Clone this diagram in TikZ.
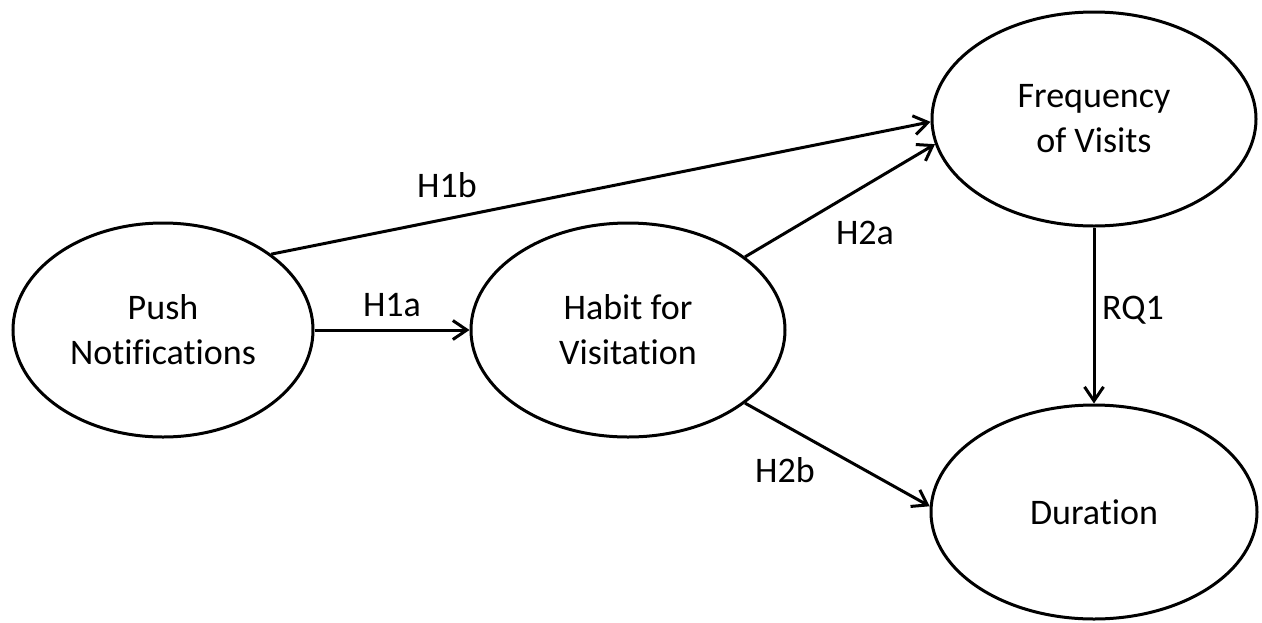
\documentclass[tikz,border=0pt]{standalone}
\usepackage{fontspec}
\setmainfont[Ligatures=CommonOff]{Carlito}
\usetikzlibrary{shapes.geometric,arrows.meta}

\tikzset{
  construct/.style={ellipse, draw=black, line width=3pt, inner sep=0pt,
    minimum height=214pt, align=center, font=\fontsize{36}{45}\selectfont},
  path/.style={line width=3pt, -{Straight Barb[length=14pt,width=19pt,line width=3pt]}},
  hyp/.style={font=\fontsize{36}{44}\selectfont, inner sep=0pt}
}

\begin{document}
\begin{tikzpicture}[x=1pt, y=-1pt]
  \useasboundingbox (0,0) rectangle (1262,622);

  % latent constructs
  \node[construct, minimum width=300pt] (push) at (163,330) {Push\\Notifications};
  \node[construct, minimum width=314pt] (habit) at (628,330) {Habit for\\Visitation};
  \node[construct, minimum width=324pt] (freq) at (1094,119) {Frequency\\of Visits};
  \node[construct, minimum width=326pt] (dur) at (1094,512) {Duration};

  % hypothesised paths
  \draw[path] (push.east) -- (habit.west);
  \draw[path] (push.35) -- (freq.181);
  \draw[path] (habit.32) -- (freq.189);
  \draw[path] (habit.-32) -- (dur.178);
  \draw[path] (freq.south) -- (dur.north);

  % path labels
  \node[hyp] (h1a) at (392,305) {H1a};
  \node[hyp] (h1b) at (447,185) {H1b};
  \node[hyp] (h2a) at (865,233) {H2a};
  \node[hyp] (h2b) at (785,470) {H2b};
  \node[hyp] (rq1) at (1133,310) {RQ1};
\end{tikzpicture}
\end{document}
